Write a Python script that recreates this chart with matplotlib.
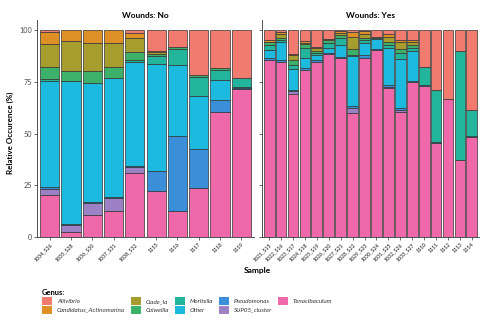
import numpy as np
import matplotlib
matplotlib.use("Agg")
import matplotlib.pyplot as plt
from matplotlib.patches import Patch

plt.rcParams["font.family"] = ["Lato", "DejaVu Sans"]

# ─── Data ────────────────────────────────────────────────────────────────────

genera = [
    "Aliivibrio", "Candidatus_Actinomarina", "Clade_Ia", "Colwellia",
    "Moritella", "Other", "Pseudomonas", "SUP05_cluster", "Tenacibaculum",
]
colors = [
    "#F27B6F", "#DE8F25", "#A69D2E", "#3DB06A",
    "#23B59C", "#1CBADF", "#3B8FD8", "#9C82C4", "#EE68AA",
]

samples_no = ["1034_S26", "1035_S28", "1036_S30", "1037_S31", "1038_S32",
              "1115", "1116", "1117", "1118", "1119"]
samples_yes = ["1021_S15", "1022_S16", "1023_S17", "1024_S18", "1025_S19",
               "1026_S20", "1027_S21", "1028_S22", "1029_S23", "1030_S24",
               "1031_S25", "1032_S26", "1033_S27", "1110", "1111", "1112",
               "1113", "1114"]

# relative occurrence (%) per genus, wounds: no
no_aliivibrio = [0.7, 0, 0, 0, 1.4, 10.0, 8.0, 21.7, 18.2, 23.2]
no_candidatus = [5.7, 5.0, 6.1, 6.1, 2.3, 0.5, 0, 0, 0, 0]
no_clade = [11.3, 14.5, 13.7, 11.6, 7.0, 1.0, 0, 0, 0, 0]
no_colwellia = [5.7, 4.8, 5.5, 5.3, 3.5, 1.0, 1.0, 1.0, 0.8, 0]
no_moritella = [1.2, 0, 0, 0, 1.2, 4.0, 8.0, 9.0, 5.2, 4.0]
no_other = [51.4, 69.2, 57.9, 57.7, 50.2, 51.5, 34.2, 25.6, 9.6, 0.5]
no_pseudomonas = [0.7, 0.7, 0.4, 0.4, 0.6, 9.6, 36.1, 19.2, 5.8, 0.5]
no_sup05 = [3.0, 3.2, 5.8, 6.3, 2.8, 0, 0, 0, 0, 0]
no_tenacibaculum = [20.3, 2.6, 10.6, 12.6, 31.0, 22.4, 12.7, 23.5, 60.4, 71.8]

# wounds: yes
yes_aliivibrio = [4.8, 1.0, 11.3, 5.4, 8.0, 4.0, 0.5, 0.8, 0.5, 3.2,
                  1.6, 4.8, 4.8, 17.6, 28.7, 33.0, 10.1, 38.6]
yes_candidatus = [0.7, 1.0, 0.7, 0.6, 0.7, 0.4, 0.8, 2.4, 1.5, 0,
                  1.6, 0.8, 0.8, 0, 0, 0, 0, 0]
yes_clade = [0.3, 1.5, 2.5, 0.8, 1.1, 0.3, 1.0, 5.7, 1.7, 0,
             2.5, 3.6, 1.6, 0, 0, 0, 0, 0]
yes_colwellia = [1.5, 1.3, 2.1, 1.6, 1.3, 1.3, 1.2, 2.8, 1.1, 0.6,
                 1.3, 1.6, 1.2, 0, 0, 0, 0, 0]
yes_moritella = [2.0, 1.0, 1.9, 5.0, 0.6, 2.6, 3.8, 0.7, 1.2, 0.5,
                 1.6, 3.0, 1.7, 9.0, 25.3, 0, 52.4, 12.5]
yes_other = [4.1, 8.4, 10.5, 4.8, 2.8, 2.2, 5.4, 24.3, 6.1, 4.6,
             18.0, 24.0, 14.4, 0, 0, 0, 0, 0]
yes_pseudomonas = [1.0, 1.0, 0.5, 0.8, 0.8, 0.8, 0.8, 0.8, 1.1, 0.6,
                   0.7, 0.7, 0.5, 0.5, 0.5, 0, 0, 0.6]
yes_sup05 = [0, 0, 1.1, 0, 0, 0, 0, 2.3, 0, 0,
             0.7, 1.0, 0, 0, 0, 0, 0, 0]
yes_tenacibaculum = [85.6, 84.8, 69.4, 81.0, 84.7, 88.4, 86.5, 60.2, 86.8, 90.5,
                     72.0, 60.5, 75.0, 72.9, 45.5, 67.0, 37.5, 48.3]

no_data = [no_aliivibrio, no_candidatus, no_clade, no_colwellia, no_moritella,
           no_other, no_pseudomonas, no_sup05, no_tenacibaculum]
yes_data = [yes_aliivibrio, yes_candidatus, yes_clade, yes_colwellia, yes_moritella,
            yes_other, yes_pseudomonas, yes_sup05, yes_tenacibaculum]

# ─── Style ───────────────────────────────────────────────────────────────────

EDGE = "#333333"
AXIS = "#333333"
TICK_TXT = "#4d4d4d"

fig = plt.figure(figsize=(5.0, 3.32), dpi=100, facecolor="white")
ax_no = fig.add_axes([37 / 500, 1 - 237 / 332, 217 / 500, 217 / 332])
ax_yes = fig.add_axes([262 / 500, 1 - 237 / 332, 217 / 500, 217 / 332])


def draw_panel(ax, samples, data, title, show_labels):
    x = np.arange(len(samples))
    bottom = np.zeros(len(samples))
    # ggplot stacks the last factor level at the bottom
    for vals, col in zip(data[::-1], colors[::-1]):
        vals = np.array(vals, dtype=float)
        mask = vals > 0
        ax.bar(x[mask], vals[mask], bottom=bottom[mask], width=0.9,
               color=col, edgecolor=EDGE, linewidth=0.5)
        bottom += vals
    ax.set_xlim(-0.6, len(samples) - 0.4)
    ax.set_ylim(0, 105)
    ax.set_yticks([0, 25, 50, 75, 100])
    ax.set_xticks(x)
    ax.set_xticklabels(samples, rotation=45, ha="right", rotation_mode="anchor",
                       fontsize=3.8, color=TICK_TXT, fontweight="bold")
    if show_labels:
        ax.set_yticklabels(["0", "25", "50", "75", "100"], fontsize=5.2, color=TICK_TXT)
    else:
        ax.set_yticklabels([])
    ax.tick_params(length=2, width=0.5, color=AXIS, pad=1.5)
    for side in ("top", "right"):
        ax.spines[side].set_visible(False)
    for side in ("left", "bottom"):
        ax.spines[side].set_color(AXIS)
        ax.spines[side].set_linewidth(0.6)
    ax.set_title(title, fontsize=6, fontweight="bold", pad=1.5)


draw_panel(ax_no, samples_no, no_data, "Wounds: No", True)
draw_panel(ax_yes, samples_yes, yes_data, "Wounds: Yes", False)

fig.text(10 / 500, 1 - 133 / 332, "Relative Occurence (%)", rotation=90,
         ha="center", va="center", fontsize=5.8, fontweight="bold")
fig.text(257 / 500, 1 - 270 / 332, "Sample", ha="center", va="center",
         fontsize=6, fontweight="bold")

handles = [Patch(facecolor=c, edgecolor="none") for c in colors]
leg = fig.legend(handles, genera, ncol=5, loc="upper left",
                 bbox_to_anchor=(39 / 500, 1 - 286 / 332), frameon=False,
                 title="Genus:", alignment="left",
                 prop={"size": 4.5, "style": "italic"},
                 handlelength=1.6, handleheight=1.6, handletextpad=0.8,
                 columnspacing=0.9, labelspacing=0.12, borderpad=0)
leg.get_title().set_fontsize(5.5)
leg.get_title().set_fontweight("bold")
for t in leg.get_texts():
    t.set_color("#333333")

fig.savefig("out.png", dpi=100)
